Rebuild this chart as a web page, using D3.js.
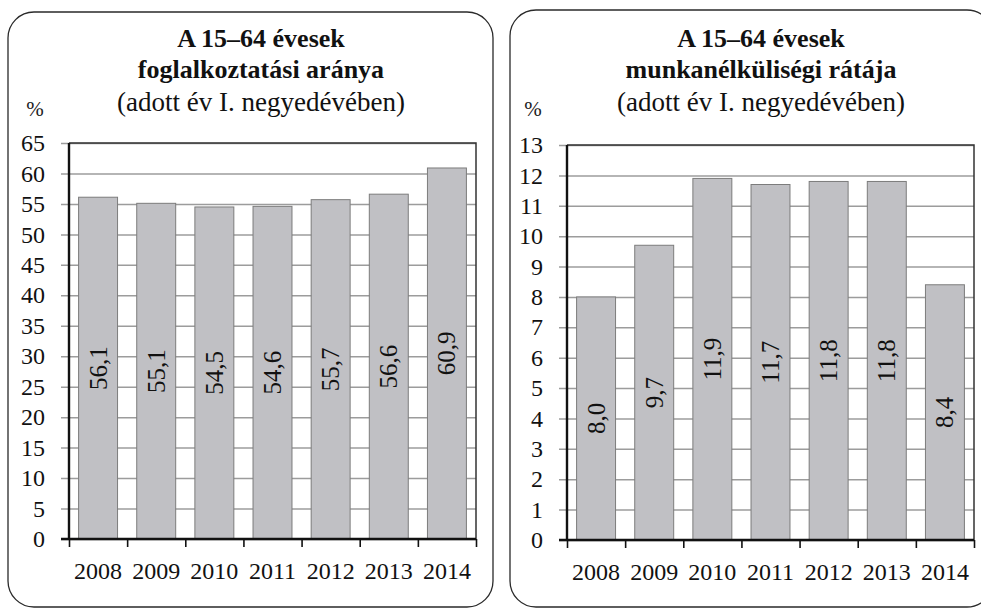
<!DOCTYPE html>
<html>
<head>
<meta charset="utf-8">
<script src="https://cdn.jsdelivr.net/npm/d3@7"></script>
<style>
  body { margin: 0; background: #fff; }
  svg { display: block; font-family: 'Liberation Serif', 'Times New Roman', serif; }
  .axis path { display: none; }
</style>
</head>
<body>
<script>
// Data
var years = ['2008', '2009', '2010', '2011', '2012', '2013', '2014']
var employment = [56.1, 55.1, 54.5, 54.6, 55.7, 56.6, 60.9]
var unemployment = [8.0, 9.7, 11.9, 11.7, 11.8, 11.8, 8.4]
var employmentTicks = [0, 5, 10, 15, 20, 25, 30, 35, 40, 45, 50, 55, 60, 65]
var unemploymentTicks = [0, 1, 2, 3, 4, 5, 6, 7, 8, 9, 10, 11, 12, 13]
var titleLine1 = 'A 15–64 évesek'
var employmentTitle = 'foglalkoztatási aránya'
var unemploymentTitle = 'munkanélküliségi rátája'
var subtitle = '(adott év I. negyedévében)'

var hu = d3.formatLocale({ decimal: ',', thousands: ' ', grouping: [3], currency: ['', ' Ft'] })
var fmt = hu.format('.1f')
var serif = "'Liberation Serif', serif"

var svg = d3.select('body').append('svg')
    .attr('width', 981)
    .attr('height', 610)

function drawPanel(o) {
  var g = svg.append('g')

  // rounded frame
  g.append('rect')
      .attr('x', o.frame[0]).attr('y', o.frame[1])
      .attr('width', o.frame[2]).attr('height', o.frame[3])
      .attr('rx', 26).attr('ry', 26)
      .attr('fill', 'none')
      .attr('stroke', '#2a2a2a')
      .attr('stroke-width', 1.3)

  // titles
  g.append('text')
      .attr('x', o.cx).attr('y', 47)
      .attr('text-anchor', 'middle')
      .style('font-size', '26px').style('font-weight', 'bold')
      .attr('fill', '#111')
      .text(titleLine1)
  g.append('text')
      .attr('x', o.cx).attr('y', 78)
      .attr('text-anchor', 'middle')
      .style('font-size', '26px').style('font-weight', 'bold')
      .attr('fill', '#111')
      .text(o.title)
  g.append('text')
      .attr('x', o.cx).attr('y', 111)
      .attr('text-anchor', 'middle')
      .style('font-size', '27px')
      .attr('fill', '#111')
      .text(subtitle)
  g.append('text')
      .attr('x', o.x0 - 34).attr('y', 116)
      .attr('text-anchor', 'middle')
      .style('font-size', '21px')
      .attr('fill', '#222')
      .text('%')

  // scales
  var xScale = d3.scaleBand()
      .domain(years)
      .range([o.x0, o.x1])
      .paddingInner(0.33)
      .paddingOuter(0.165)
  var xEdges = d3.scaleLinear()
      .domain([0, years.length])
      .range([o.x0, o.x1])
  var yScale = d3.scaleLinear()
      .domain([0, d3.max(o.ticks)])
      .range([o.y1, o.y0])

  // gridlines (also the small left ticks)
  g.append('g')
      .attr('class', 'axis grid')
      .attr('transform', 'translate(' + o.x1 + ',0)')
      .call(d3.axisLeft(yScale).tickValues(o.ticks).tickSize(o.x1 - o.x0 + 8).tickFormat(''))
    .selectAll('line')
      .attr('stroke', '#9c9c9c')
      .attr('stroke-width', 1.5)

  // plot frame (top + right)
  g.append('path')
      .attr('d', 'M' + o.x0 + ',' + o.y0 + 'H' + o.x1 + 'V' + o.y1)
      .attr('fill', 'none')
      .attr('stroke', '#333')
      .attr('stroke-width', 1.5)

  // bars
  g.selectAll('rect.bar')
      .data(o.values)
      .enter()
    .append('rect')
      .attr('class', 'bar')
      .attr('x', function (d, i) { return xScale(years[i]) })
      .attr('y', function (d) { return yScale(d) })
      .attr('width', xScale.bandwidth())
      .attr('height', function (d) { return yScale(0) - yScale(d) })
      .attr('fill', '#c0c0c4')
      .attr('stroke', '#7c7c7c')
      .attr('stroke-width', 1)

  // value labels (rotated)
  g.selectAll('text.val')
      .data(o.values)
      .enter()
    .append('text')
      .attr('class', 'val')
      .attr('transform', function (d, i) {
        var cx = xScale(years[i]) + xScale.bandwidth() / 2
        var cy = (yScale(d) + yScale(0)) / 2
        return 'translate(' + cx + ',' + cy + ') rotate(-90)'
      })
      .attr('text-anchor', 'middle')
      .attr('dominant-baseline', 'central')
      .style('font-size', '25px')
      .attr('fill', '#111')
      .text(function (d) { return fmt(d) })

  // y-axis labels
  g.append('g')
      .attr('class', 'axis')
      .attr('transform', 'translate(' + o.x0 + ',0)')
      .call(d3.axisLeft(yScale).tickValues(o.ticks).tickSize(0).tickPadding(24))
    .selectAll('text')
      .style('font-size', '24px')
      .style('font-family', serif)
      .attr('fill', '#111')

  // x-axis boundary ticks
  g.append('g')
      .attr('class', 'axis')
      .attr('transform', 'translate(0,' + o.y1 + ')')
      .call(d3.axisBottom(xEdges).tickValues(d3.range(years.length + 1)).tickSize(8).tickFormat(''))
    .selectAll('line')
      .attr('stroke', '#111')
      .attr('stroke-width', 1.6)

  // x-axis year labels
  g.append('g')
      .attr('class', 'axis')
      .attr('transform', 'translate(0,' + o.y1 + ')')
      .call(d3.axisBottom(xScale).tickSize(0).tickPadding(23))
    .selectAll('text')
      .style('font-size', '24px')
      .style('font-family', serif)
      .attr('fill', '#111')

  // axis lines
  g.append('line')
      .attr('x1', o.x0).attr('x2', o.x0)
      .attr('y1', o.y0).attr('y2', o.y1)
      .attr('stroke', '#111').attr('stroke-width', 2.4)
  g.append('line')
      .attr('x1', o.x0 - 8).attr('x2', o.x1)
      .attr('y1', o.y1).attr('y2', o.y1)
      .attr('stroke', '#111').attr('stroke-width', 2.4)
}

drawPanel({
  frame: [8, 12, 485, 595],
  cx: 261,
  title: employmentTitle,
  x0: 69, x1: 476, y0: 143, y1: 539,
  ticks: employmentTicks,
  values: employment
})

drawPanel({
  frame: [510, 10, 483, 597],
  cx: 761,
  title: unemploymentTitle,
  x0: 567, x1: 974, y0: 145, y1: 540,
  ticks: unemploymentTicks,
  values: unemployment
})
</script>
</body>
</html>
